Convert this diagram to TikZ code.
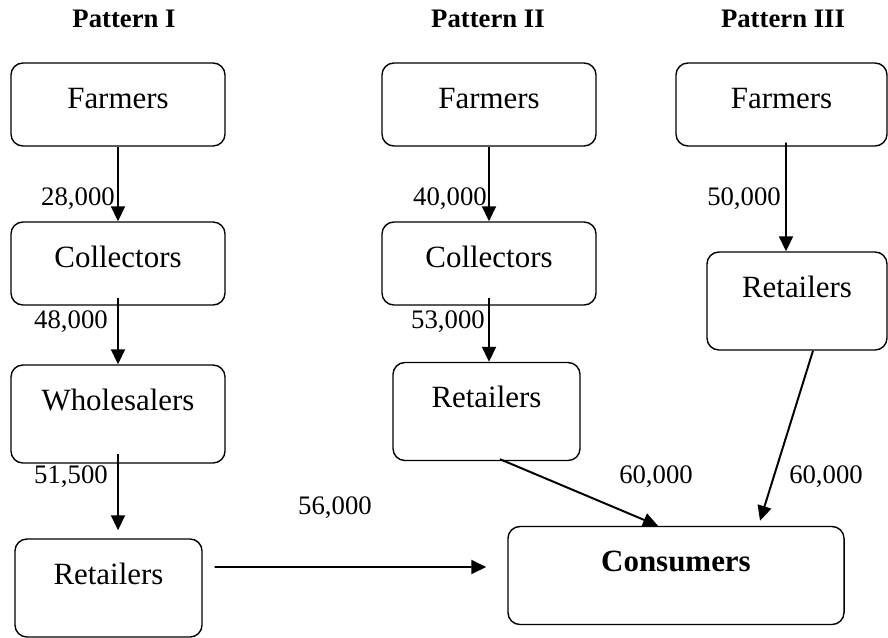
\documentclass[tikz,border=0pt]{standalone}
\usepackage{fontspec}
\setmainfont{Liberation Serif}
\usetikzlibrary{positioning, arrows.meta}

\begin{document}
\begin{tikzpicture}[
    x=0.025cm, y=-0.025cm,
    box/.style={
        rectangle,
        rounded corners=0.3cm,
        draw,
        line width=1pt,
        align=center,
        inner xsep=0pt,
        inner ysep=0pt,
        font=\fontsize{22}{26}\selectfont,
        text height=1.125cm,
        text depth=0.95cm,
        minimum width=5.35cm
    },
    tallbox/.style={box, text depth=1.325cm},
    price/.style={font=\fontsize{19}{22}\selectfont, inner sep=0pt, anchor=base east},
    head/.style={font=\fontsize{19}{22}\selectfont\bfseries, inner sep=0pt, anchor=base},
    arrow/.style={-{Triangle[length=0.375cm, width=0.35cm]}, line width=1.4pt}
]

\useasboundingbox (0,0) rectangle (888,638);

\node[head] (headI) at (124,27) {Pattern I};
\node[head] (headII) at (488,27) {Pattern II};
\node[head] (headIII) at (783,27) {Pattern III};

\node[box] (farmersI) at (118,104.5) {Farmers};
\node[box] (collectorsI) at (118,263.5) {Collectors};
\node[tallbox] (wholesalersI) at (118,414) {Wholesalers};
\node[tallbox, minimum width=4.675cm] (retailersI) at (108.5,588) {Retailers};

\node[box] (farmersII) at (489,104.5) {Farmers};
\node[box] (collectorsII) at (489,263.5) {Collectors};
\node[tallbox, minimum width=4.675cm] (retailersII) at (486.5,411.5) {Retailers};

\node[box, minimum width=5.275cm] (farmersIII) at (781.5,104.5) {Farmers};
\node[tallbox, minimum width=4.5cm] (retailersIII) at (797,301) {Retailers};

\node[tallbox, minimum width=8.4cm, font=\fontsize{22}{26}\selectfont\bfseries] (consumers) at (676,575.5) {Consumers};

\draw[arrow] (farmersI) -- (collectorsI);
\draw[arrow] ([yshift=0.2cm]collectorsI.south) -- (wholesalersI);
\draw[arrow] ([yshift=0.25cm]wholesalersI.south) -- ([yshift=0.2cm]wholesalersI.south |- retailersI.north);
\draw[arrow] ([xshift=0.3cm, yshift=0.525cm]retailersI.east) -- ([xshift=-0.525cm, yshift=0.2125cm]consumers.west);

\draw[arrow] (farmersII) -- (collectorsII);
\draw[arrow] ([yshift=0.2cm]collectorsII.south) -- (collectorsII.south |- retailersII.north);
\draw[arrow] ([xshift=0.3375cm, yshift=0.05cm]retailersII.south) -- ([xshift=-0.45cm]consumers.north);

\draw[arrow] ([xshift=0.1125cm, yshift=0.1cm]farmersIII.south) -- ([xshift=-0.275cm]retailersIII.north);
\draw[arrow] ([xshift=0.4cm]retailersIII.south) -- ([xshift=2.1cm, yshift=0.125cm]consumers.north);

\node[price] (priceIa) at (115,205) {28,000};
\node[price] (priceIb) at (108,328) {48,000};
\node[price] (priceIc) at (108,483) {51,500};
\node[price] (priceId) at (372,514) {56,000};
\node[price] (priceIIa) at (487,205) {40,000};
\node[price] (priceIIb) at (485,328) {53,000};
\node[price] (priceIIc) at (693,483) {60,000};
\node[price] (priceIIIa) at (781,205) {50,000};
\node[price] (priceIIIb) at (863,483) {60,000};

\end{tikzpicture}
\end{document}
